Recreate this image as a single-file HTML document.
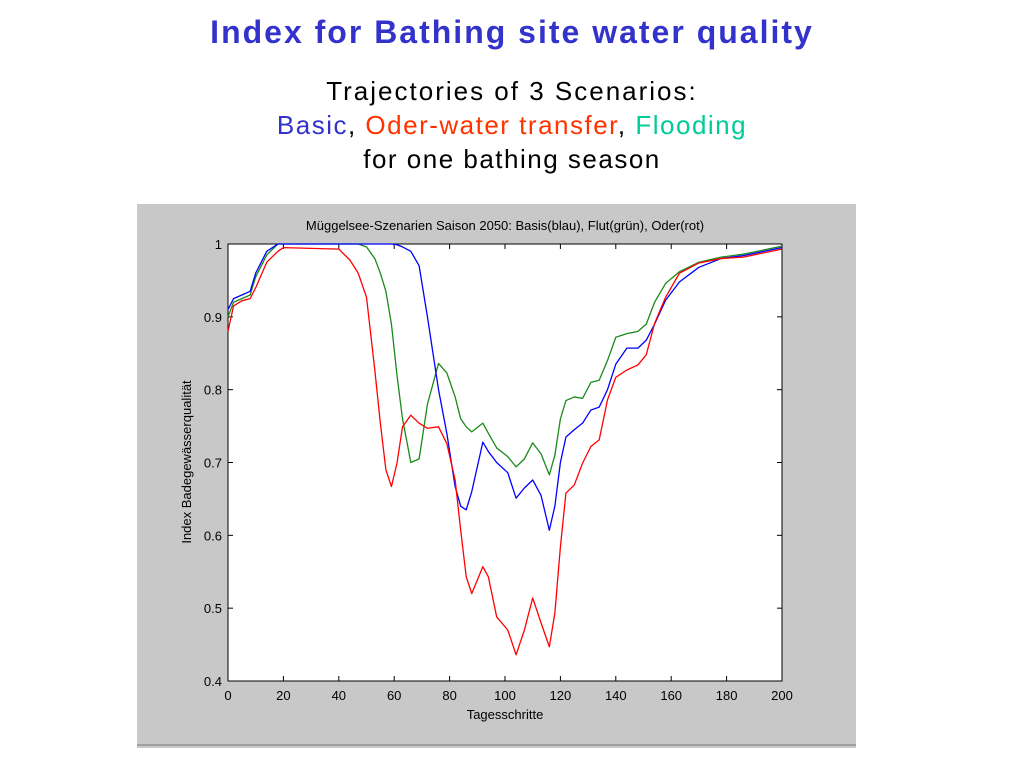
<!DOCTYPE html>
<html><head><meta charset="utf-8"><style>
body{margin:0;width:1024px;height:768px;background:#fff;overflow:hidden;font-family:"Liberation Sans",sans-serif;position:relative}
.t{position:absolute;left:0;width:1024px;text-align:center}
</style></head><body>
<div class="t" style="top:14px;font-size:32px;letter-spacing:2px;font-weight:bold;color:#3333cc">Index for Bathing site water quality</div>
<div class="t" style="top:76px;font-size:26px;letter-spacing:2px">Trajectories of 3 Scenarios:</div>
<div class="t" style="top:110px;font-size:26px;letter-spacing:1.5px"><span style="color:#3333cc">Basic</span>, <span style="color:#ff3300">Oder-water transfer</span>, <span style="color:#00cc99">Flooding</span></div>
<div class="t" style="top:144px;font-size:26px;letter-spacing:1.5px">for one bathing season</div>
<svg width="1024" height="768" style="position:absolute;left:0;top:0">
<rect x="137" y="204" width="719" height="544" fill="#c8c8c8"/>
<line x1="137" y1="745" x2="856" y2="745" stroke="#777" stroke-width="1"/>
<rect x="228" y="244" width="554" height="437" fill="#fff" stroke="#000" stroke-width="1"/>
<text x="505" y="230" font-size="13" text-anchor="middle" font-family="Liberation Sans">Müggelsee-Szenarien Saison 2050: Basis(blau), Flut(grün), Oder(rot)</text>
<text x="505" y="719" font-size="13" text-anchor="middle" font-family="Liberation Sans">Tagesschritte</text>
<text transform="translate(191,462) rotate(-90)" font-size="13" text-anchor="middle" font-family="Liberation Sans">Index Badegewässerqualität</text>
<g id="ax"></g><g id="lines"></g>
</svg>
<script>
const xTicks=[0,20,40,60,80,100,120,140,160,180,200];
const yTicks=[0.4,0.5,0.6,0.7,0.8,0.9,1];
const days=[0,2,5,8,10,14,18,20,30,40,44,47,50,53,55,57,59,61,63,66,69,72,76,79,82,84,86,88,92,94,97,101,104,107,110,113,116,118,120,122,125,128,131,134,137,140,144,148,151,154,158,163,170,178,186,200];
const basis=[0.91,0.925,0.93,0.935,0.96,0.99,1,1,1,1,1,1,1,1,1,1,1,0.999,0.996,0.99,0.97,0.9,0.8,0.74,0.667,0.64,0.635,0.66,0.728,0.715,0.7,0.686,0.651,0.665,0.676,0.655,0.607,0.64,0.7,0.735,0.745,0.754,0.772,0.776,0.8,0.835,0.857,0.857,0.868,0.89,0.923,0.948,0.968,0.98,0.984,0.995];
const flut=[0.90,0.92,0.925,0.93,0.955,0.985,1,1,1,1,1,1,0.996,0.98,0.96,0.935,0.89,0.82,0.76,0.7,0.705,0.78,0.836,0.823,0.79,0.76,0.749,0.742,0.754,0.74,0.72,0.708,0.694,0.705,0.727,0.712,0.683,0.71,0.76,0.785,0.79,0.788,0.81,0.813,0.84,0.872,0.877,0.88,0.89,0.92,0.946,0.962,0.975,0.982,0.986,0.997];
const oder=[0.88,0.915,0.922,0.925,0.94,0.975,0.99,0.995,0.994,0.993,0.978,0.96,0.927,0.827,0.754,0.69,0.667,0.699,0.749,0.765,0.754,0.747,0.749,0.726,0.676,0.607,0.543,0.52,0.557,0.543,0.488,0.47,0.436,0.47,0.514,0.48,0.447,0.493,0.584,0.658,0.669,0.699,0.722,0.731,0.786,0.817,0.827,0.834,0.848,0.891,0.927,0.96,0.974,0.98,0.982,0.993];
const X=d=>228+d*554/200, Y=v=>681-(v-0.4)*437/0.6;
const NS='http://www.w3.org/2000/svg';
const ax=document.getElementById('ax'), lg=document.getElementById('lines');
function mk(tag,attrs,parent){const e=document.createElementNS(NS,tag);for(const k in attrs)e.setAttribute(k,attrs[k]);parent.appendChild(e);return e;}
xTicks.forEach(t=>{
 const x=X(t);
 const l=mk('line',{x1:x,x2:x,y1:681,y2:676,stroke:'#000'},ax);
 
 
 mk('line',{x1:x,x2:x,y1:244,y2:249,stroke:'#000'},ax);
 const tx=mk('text',{x:x,y:700,'font-size':13,'text-anchor':'middle','font-family':'Liberation Sans'},ax);
 tx.textContent=t;
 
 
});
yTicks.forEach(t=>{
 const y=Y(t);
 const l=mk('line',{x1:228,x2:233,y1:y,y2:y,stroke:'#000'},ax);
 
 
 mk('line',{x1:782,x2:777,y1:y,y2:y,stroke:'#000'},ax);
 const tx=mk('text',{x:222,y:y+5,'font-size':13,'text-anchor':'end','font-family':'Liberation Sans'},ax);
 tx.textContent=(t===1?'1':t.toFixed(1));
 
 
});
function draw(vals,col,name){
 const p=mk('polyline',{points:days.map((d,i)=>X(d)+','+Y(vals[i])).join(' '),fill:'none',stroke:col,'stroke-width':1.3,'stroke-linejoin':'round'},lg);
 
 
}
draw(flut,'#1a8a1a','series-flut');
draw(basis,'#0000ff','series-basis');
draw(oder,'#ff0000','series-oder');
</script>
</body></html>
